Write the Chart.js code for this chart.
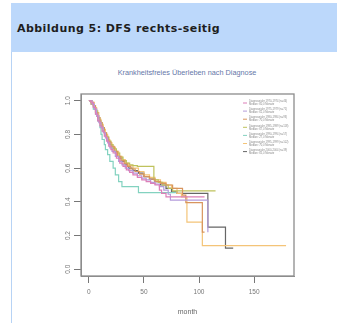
<!DOCTYPE html>
<html>
<head>
<meta charset="utf-8">
<script src="https://cdn.jsdelivr.net/npm/chart.js@4"></script>
<style>
  html, body { margin: 0; padding: 0; background: #fff; }
  body { width: 337px; height: 323px; position: relative; overflow: hidden; }
  .band { position: absolute; left: 11px; top: 3px; right: 0; height: 49px; background: #bcd8fb; }
  .band span { position: absolute; left: 6px; top: 19px; font: bold 11px "DejaVu Sans", sans-serif;
               letter-spacing: 0.45px; color: #1e1e1e; white-space: nowrap; }
  .rule { position: absolute; left: 11px; top: 52px; bottom: 0; width: 1px; background: #b7d3f5; }
  .ptitle { position: absolute; left: 87px; width: 200px; top: 69px; text-align: center;
            font: 7.3px "Liberation Sans", sans-serif; line-height: 8px; color: #6677a8; }
  canvas { position: absolute; left: 0; top: 0; }
</style>
</head>
<body>
<div class="band"><span>Abbildung 5: DFS rechts-seitig</span></div>
<div class="rule"></div>
<div class="ptitle">Krankheitsfreies Überleben nach Diagnose</div>
<canvas id="km" width="337" height="323"></canvas>
<script>
// ─── Kaplan-Meier, DFS rechts-seitig ───
const xTicks = [0, 50, 100, 150];
const yTicks = [0, 0.2, 0.4, 0.6, 0.8, 1.0];

const groupLabels = [
  'Diagnosejahr 1970-1974 (n=46)',
  'Diagnosejahr 1975-1979 (n=71)',
  'Diagnosejahr 1980-1984 (n=93)',
  'Diagnosejahr 1985-1989 (n=118)',
  'Diagnosejahr 1990-1994 (n=57)',
  'Diagnosejahr 1995-1999 (n=102)',
  'Diagnosejahr 2000-2004 (n=39)'
];
const groupMedians = [
  'Median: 60,0 Monate', 'Median: 62,0 Monate', 'Median: 70,0 Monate',
  'Median: 67,0 Monate', 'Median: 27,0 Monate', 'Median: 70,0 Monate',
  'Median: 65,0 Monate'
];
const groupColors = ['#dc7fb8', '#b49cdb', '#d8955e', '#bfc25c', '#83d2c0', '#f4c478', '#666666'];

// [month, survival]
const curvePink = [[0,1],[2,0.99],[4,0.96],[6,0.92],[8,0.88],[10,0.85],[12,0.82],[14,0.79],[16,0.76],[18,0.73],[20,0.71],[22,0.69],[25,0.66],[28,0.63],[31,0.61],[34,0.59],[37,0.575],[40,0.56],[44,0.545],[48,0.53],[52,0.52],[56,0.51],[60,0.50],[64,0.47],[66,0.45],[70,0.43],[105,0.43]];
const curvePurple = [[0,1],[3,0.98],[5,0.95],[7,0.91],[9,0.87],[11,0.84],[13,0.81],[15,0.78],[17,0.75],[19,0.72],[21,0.70],[24,0.67],[27,0.64],[30,0.62],[33,0.60],[36,0.585],[40,0.57],[44,0.555],[48,0.54],[52,0.53],[56,0.515],[60,0.505],[64,0.49],[68,0.47],[72,0.445],[74,0.41],[107,0.41],[108,0.22]];
const curveBrown = [[0,1],[2,0.98],[4,0.97],[6,0.93],[8,0.90],[10,0.87],[12,0.84],[14,0.81],[16,0.78],[18,0.755],[20,0.73],[23,0.70],[26,0.67],[29,0.645],[32,0.625],[35,0.61],[38,0.595],[42,0.58],[46,0.565],[50,0.55],[55,0.535],[60,0.52],[65,0.51],[70,0.50],[76,0.48],[85,0.44],[88,0.395],[103,0.22],[105,0.22]];
const curveOlive = [[0,1],[2,0.99],[4,0.97],[6,0.94],[8,0.90],[10,0.87],[12,0.84],[14,0.81],[16,0.785],[18,0.76],[20,0.74],[22,0.715],[25,0.69],[28,0.665],[31,0.645],[34,0.63],[37,0.62],[40,0.615],[44,0.61],[59,0.53],[63,0.515],[67,0.50],[72,0.48],[76,0.465],[115,0.465]];
const curveTeal = [[0,1],[2,0.98],[4,0.95],[6,0.92],[8,0.88],[10,0.84],[11,0.80],[12,0.77],[14,0.74],[15,0.71],[17,0.68],[19,0.64],[22,0.60],[24,0.56],[27,0.52],[30,0.49],[45,0.455],[79,0.455]];
const curveOrange = [[0,1],[3,0.99],[5,0.96],[7,0.93],[9,0.89],[11,0.86],[13,0.83],[15,0.80],[17,0.77],[19,0.75],[21,0.725],[24,0.70],[27,0.67],[30,0.65],[33,0.63],[36,0.615],[40,0.60],[45,0.58],[50,0.56],[55,0.545],[60,0.53],[65,0.515],[70,0.50],[75,0.48],[80,0.45],[84,0.43],[89,0.28],[103,0.14],[179,0.14]];
const curveGrey = [[0,1],[3,0.98],[5,0.95],[7,0.91],[9,0.88],[11,0.85],[13,0.82],[15,0.79],[17,0.76],[19,0.74],[21,0.72],[24,0.69],[27,0.66],[30,0.64],[33,0.62],[36,0.60],[40,0.585],[45,0.57],[50,0.55],[55,0.535],[60,0.52],[65,0.50],[70,0.48],[75,0.46],[80,0.45],[108,0.25],[124,0.125],[131,0.125]];

const curves = [curvePink, curvePurple, curveBrown, curveOlive, curveTeal, curveOrange, curveGrey];

// box round the plot + legend top right, like R
const boxAndLegend = {
  id: 'boxAndLegend',
  afterDraw(chart) {
    const { ctx, chartArea: a } = chart;
    ctx.save();
    ctx.strokeStyle = '#8c8c8c';
    ctx.lineWidth = 1.3;
    ctx.strokeRect(a.left, a.top, a.right - a.left, a.bottom - a.top);

    const x0 = a.right - 51;
    chart.data.datasets.forEach((ds, i) => {
      const y = a.top + 9 + i * 8.1;
      ctx.strokeStyle = ds.borderColor;
      ctx.lineWidth = 1;
      ctx.beginPath();
      ctx.moveTo(x0, y);
      ctx.lineTo(x0 + 4, y);
      ctx.stroke();
      ctx.fillStyle = '#8a8a8a';
      ctx.font = '2.7px "Liberation Sans"';
      ctx.textBaseline = 'middle';
      ctx.fillText(ds.label, x0 + 6, y - 1.5);
      ctx.fillText(groupMedians[i], x0 + 6, y + 1.5);
    });
    ctx.restore();
  }
};

const tickFont = { family: 'Liberation Sans', size: 6.5 };

new Chart(document.getElementById('km'), {
  type: 'line',
  data: {
    datasets: curves.map((c, i) => ({
      label: groupLabels[i],
      data: c.map(p => ({ x: p[0], y: p[1] })),
      borderColor: groupColors[i],
      borderWidth: 1.2,
      stepped: 'before',
      pointRadius: 0,
      fill: false,
    }))
  },
  options: {
    responsive: false,
    animation: false,
    devicePixelRatio: 1,
    layout: { padding: { left: 0, top: 94, right: 43, bottom: 0 } },
    plugins: { legend: { display: false }, tooltip: { enabled: false } },
    scales: {
      x: {
        type: 'linear',
        min: -7.16, max: 186.2,
        afterBuildTicks: s => { s.ticks = xTicks.map(v => ({ value: v })); },
        afterFit: s => { s.height = 47; },
        ticks: { color: '#777', font: tickFont, padding: 5, maxRotation: 0 },
        grid: { drawOnChartArea: false, drawTicks: true, tickLength: 7, color: '#777' },
        border: { color: '#8c8c8c' },
        title: { display: true, text: 'month', color: '#666',
                 font: { family: 'Liberation Sans', size: 7 }, padding: { top: 0, bottom: 6.8 } }
      },
      y: {
        min: -0.04, max: 1.04,
        afterBuildTicks: s => { s.ticks = yTicks.map(v => ({ value: v })); },
        afterFit: s => { s.width = 81; },
        ticks: { color: '#777', font: tickFont, padding: 1.5, minRotation: 90, maxRotation: 90,
                 crossAlign: 'center', callback: v => v.toFixed(1) },
        grid: { drawOnChartArea: false, drawTicks: true, tickLength: 7, color: '#777' },
        border: { color: '#8c8c8c' }
      }
    }
  },
  plugins: [boxAndLegend]
});
</script>
</body>
</html>
